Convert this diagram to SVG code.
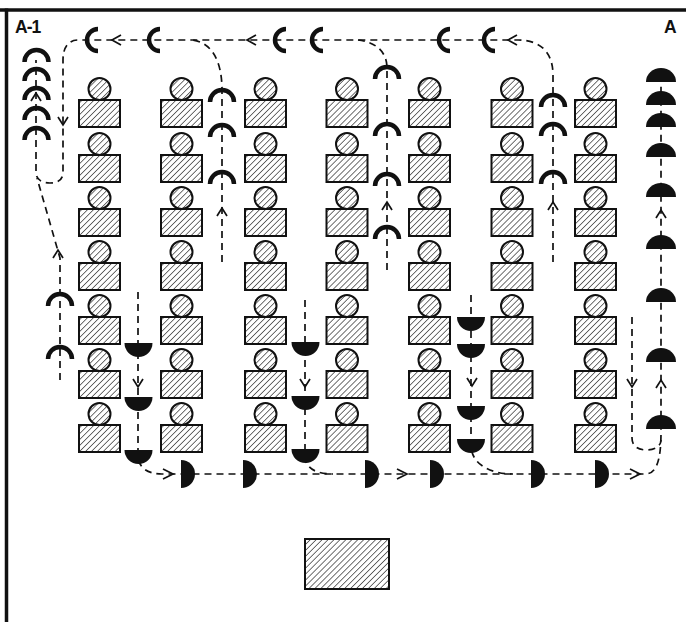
<svg xmlns="http://www.w3.org/2000/svg" xmlns:xlink="http://www.w3.org/1999/xlink" width="686" height="622" viewBox="0 0 686 622">
  <style>
    .ink { fill: #111; }
    .hat { fill: url(#hatch); stroke: #111; stroke-width: 2; }
    .arc { fill: none; stroke: #111; stroke-width: 4.5; }
    .path { fill: none; stroke: #111; stroke-width: 1.7; stroke-dasharray: 7 5; }
    .chev { fill: none; stroke: #111; stroke-width: 1.7; stroke-linejoin: miter; }
    .frame { stroke: #111; stroke-width: 3.5; }
    .lbl { font-family: "Liberation Sans", Arial, sans-serif; font-weight: bold; font-size: 17.5px; fill: #111; }
  </style>
  <defs>
    <pattern id="hatch" width="4.2" height="4.2" patternUnits="userSpaceOnUse" patternTransform="rotate(45)">
      <line x1="0" y1="0" x2="0" y2="4.2" stroke="#111" stroke-width="1.2"/>
    </pattern>
    <!-- seated pupil: head over desk -->
    <g id="stu">
      <circle class="hat" cx="0" cy="-11" r="11"/>
      <rect class="hat" x="-20.5" y="0" width="41" height="27"/>
    </g>
    <path id="arcN" class="arc" d="M-12,0 A12,12 0 0 1 12,0"/>
    <path id="arcC" class="arc" d="M0,-11 A11,11 0 0 0 0,11"/>
    <path id="bowl" class="ink" d="M-14,0 A14,14 0 0 0 14,0Z"/>
    <path id="dome" class="ink" d="M-15,0 A15,14 0 0 1 15,0Z"/>
    <path id="dee" class="ink" d="M0,-14 A14,14 0 0 1 0,14Z"/>
    <path id="chUp" class="chev" d="M-5,8 L0,0 L5,8"/>
    <path id="chDown" class="chev" d="M-5,-8 L0,0 L5,-8"/>
    <path id="chLeft" class="chev" d="M9,-5 L0,0 L9,5"/>
    <path id="chRight" class="chev" d="M-10,-5 L0,0 L-10,5"/>
  </defs>

  <rect width="686" height="622" fill="#fff"/>

  <!-- room walls -->
  <g id="walls">
    <line class="frame" x1="0" y1="10" x2="686" y2="10"/>
    <line class="frame" x1="6.5" y1="8.5" x2="6.5" y2="622"/>
  </g>

  <g id="labels">
    <text class="lbl" x="15" y="33" letter-spacing="-1">A-1</text>
    <text class="lbl" x="664" y="33">A</text>
  </g>

  <!-- movement lines -->
  <g id="connectors">
    <path class="path" d="M553,262 V75 C553,52 540,40 518,40 H78 C68,40 63,48 63,60 V172 C63,180 58,183 50,183 C42,183 36,180 36,172 V60"/>
    <path class="path" d="M387,270 V68 C387,52 376,42 358,40"/>
    <path class="path" d="M222,262 V90 C222,60 211,42 192,40"/>
    <path class="path" d="M60,380 V258 L37,178"/>
    <path class="path" d="M138,292 V455 C138,468 148,474 162,474 H645 C656,474 661,462 661,432 V80"/>
    <path class="path" d="M305,300 V455 C305,468 315,474 333,474"/>
    <path class="path" d="M471,295 V445 C471,464 490,474 513,474"/>
    <path class="path" d="M632,317 V438 C632,447 639,450 647,450 C655,450 661,446 661,440"/>

    <use href="#chLeft" x="112" y="40"/>
    <use href="#chLeft" x="247" y="40"/>
    <use href="#chLeft" x="508" y="40"/>
    <use href="#chUp" x="36" y="93"/>
    <use href="#chDown" x="63" y="125"/>
    <use href="#chUp" x="58" y="250"/>
    <use href="#chUp" x="222" y="208"/>
    <use href="#chUp" x="387" y="202"/>
    <use href="#chUp" x="553" y="202"/>
    <use href="#chUp" x="661" y="210"/>
    <use href="#chUp" x="661" y="380"/>
    <use href="#chDown" x="138" y="387"/>
    <use href="#chDown" x="305" y="387"/>
    <use href="#chDown" x="472" y="386"/>
    <use href="#chDown" x="632" y="387"/>
    <use href="#chRight" x="173" y="474"/>
    <use href="#chRight" x="407" y="474"/>
    <use href="#chRight" x="640" y="474"/>
  </g>

  <!-- pupils, seven columns of seven -->
  <g id="pupils">
    <g id="c1">
      <use href="#stu" x="99.5" y="100"/><use href="#stu" x="99.5" y="155"/><use href="#stu" x="99.5" y="209"/>
      <use href="#stu" x="99.5" y="263"/><use href="#stu" x="99.5" y="317"/><use href="#stu" x="99.5" y="371"/>
      <use href="#stu" x="99.5" y="425"/>
    </g>
    <g id="c2">
      <use href="#stu" x="181.5" y="100"/><use href="#stu" x="181.5" y="155"/><use href="#stu" x="181.5" y="209"/>
      <use href="#stu" x="181.5" y="263"/><use href="#stu" x="181.5" y="317"/><use href="#stu" x="181.5" y="371"/>
      <use href="#stu" x="181.5" y="425"/>
    </g>
    <g id="c3">
      <use href="#stu" x="265.5" y="100"/><use href="#stu" x="265.5" y="155"/><use href="#stu" x="265.5" y="209"/>
      <use href="#stu" x="265.5" y="263"/><use href="#stu" x="265.5" y="317"/><use href="#stu" x="265.5" y="371"/>
      <use href="#stu" x="265.5" y="425"/>
    </g>
    <g id="c4">
      <use href="#stu" x="347" y="100"/><use href="#stu" x="347" y="155"/><use href="#stu" x="347" y="209"/>
      <use href="#stu" x="347" y="263"/><use href="#stu" x="347" y="317"/><use href="#stu" x="347" y="371"/>
      <use href="#stu" x="347" y="425"/>
    </g>
    <g id="c5">
      <use href="#stu" x="429.5" y="100"/><use href="#stu" x="429.5" y="155"/><use href="#stu" x="429.5" y="209"/>
      <use href="#stu" x="429.5" y="263"/><use href="#stu" x="429.5" y="317"/><use href="#stu" x="429.5" y="371"/>
      <use href="#stu" x="429.5" y="425"/>
    </g>
    <g id="c6">
      <use href="#stu" x="512" y="100"/><use href="#stu" x="512" y="155"/><use href="#stu" x="512" y="209"/>
      <use href="#stu" x="512" y="263"/><use href="#stu" x="512" y="317"/><use href="#stu" x="512" y="371"/>
      <use href="#stu" x="512" y="425"/>
    </g>
    <g id="c7">
      <use href="#stu" x="595.5" y="100"/><use href="#stu" x="595.5" y="155"/><use href="#stu" x="595.5" y="209"/>
      <use href="#stu" x="595.5" y="263"/><use href="#stu" x="595.5" y="317"/><use href="#stu" x="595.5" y="371"/>
      <use href="#stu" x="595.5" y="425"/>
    </g>
  </g>

  <!-- teacher's desk -->
  <g id="desk">
    <rect class="hat" x="305" y="539" width="84" height="50"/>
  </g>

  <!-- returning pupils (open arcs) -->
  <g id="stack-a1">
    <use href="#arcN" x="36.5" y="62"/><use href="#arcN" x="36.5" y="81"/><use href="#arcN" x="36.5" y="100"/>
    <use href="#arcN" x="36.5" y="120"/><use href="#arcN" x="36.5" y="140"/>
  </g>
  <g id="aisle-left">
    <use href="#arcN" x="60" y="306"/><use href="#arcN" x="60" y="359"/>
  </g>
  <g id="aisle-2">
    <use href="#arcN" x="222" y="102"/><use href="#arcN" x="222" y="137"/><use href="#arcN" x="222" y="184"/>
  </g>
  <g id="aisle-4">
    <use href="#arcN" x="387" y="79"/><use href="#arcN" x="387" y="136"/><use href="#arcN" x="387" y="186"/>
    <use href="#arcN" x="387" y="239"/>
  </g>
  <g id="aisle-6">
    <use href="#arcN" x="553" y="107"/><use href="#arcN" x="553" y="136"/><use href="#arcN" x="553" y="184"/>
  </g>
  <g id="front-row">
    <use href="#arcC" x="98" y="40"/><use href="#arcC" x="160" y="40"/><use href="#arcC" x="286" y="40"/>
    <use href="#arcC" x="323" y="40"/><use href="#arcC" x="450" y="40"/><use href="#arcC" x="495" y="40"/>
  </g>

  <!-- leaving pupils (solid halves) -->
  <g id="aisle-1">
    <use href="#bowl" x="138.5" y="343"/><use href="#bowl" x="138.5" y="397"/><use href="#bowl" x="138.5" y="450"/>
  </g>
  <g id="aisle-3">
    <use href="#bowl" x="305.5" y="342"/><use href="#bowl" x="305.5" y="396"/><use href="#bowl" x="305.5" y="449"/>
  </g>
  <g id="aisle-5">
    <use href="#bowl" x="471" y="317"/><use href="#bowl" x="471" y="344"/><use href="#bowl" x="471" y="406"/>
    <use href="#bowl" x="471" y="439"/>
  </g>
  <g id="back-row">
    <use href="#dee" x="181" y="474"/><use href="#dee" x="243" y="474"/><use href="#dee" x="365" y="474"/>
    <use href="#dee" x="430" y="474"/><use href="#dee" x="531" y="474"/><use href="#dee" x="595" y="474"/>
  </g>
  <g id="stack-a">
    <use href="#dome" x="661" y="82"/><use href="#dome" x="661" y="105"/><use href="#dome" x="661" y="127"/>
    <use href="#dome" x="661" y="157"/><use href="#dome" x="661" y="197"/><use href="#dome" x="661" y="249"/>
    <use href="#dome" x="661" y="302"/><use href="#dome" x="661" y="362"/><use href="#dome" x="661" y="429"/>
  </g>
</svg>
